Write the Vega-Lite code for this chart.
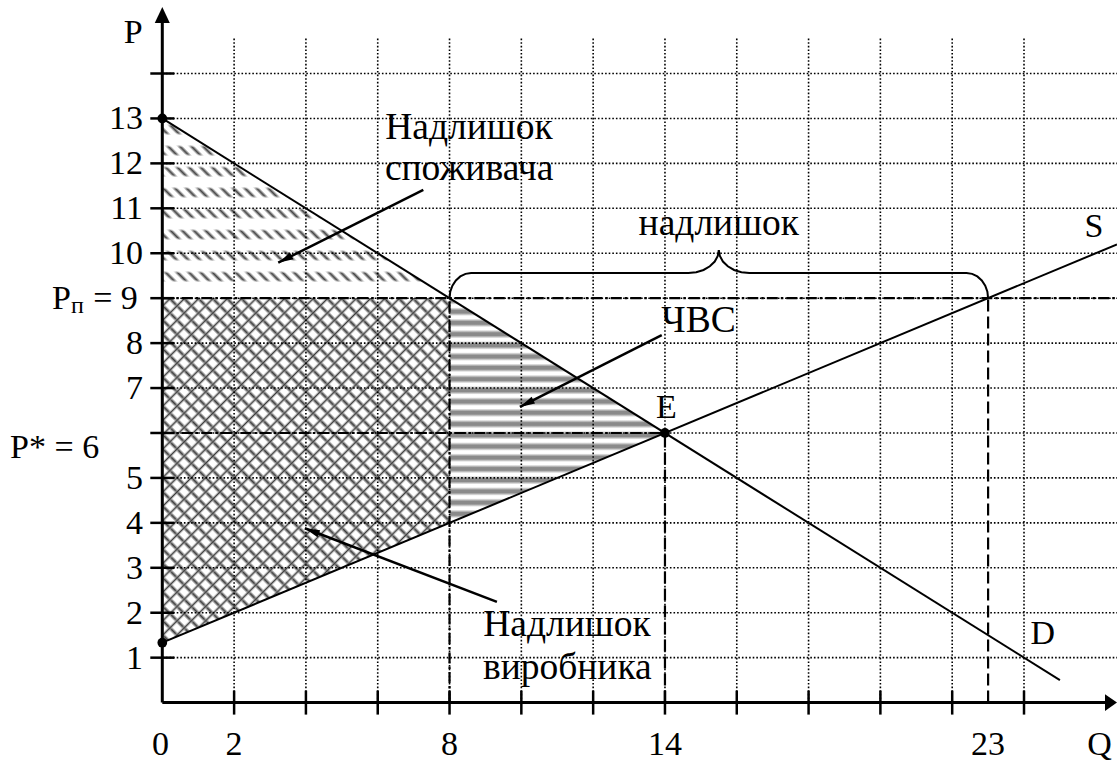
{
"$schema":"https://vega.github.io/schema/vega-lite/v6.json",
"width":954.7,"height":695.6,
"autosize":{"type":"none"},
"padding":{"left":162.3,"top":7,"right":0,"bottom":59.4},
"background":"white",
"config":{"view":{"stroke":null},"font":"'Liberation Serif', 'Times New Roman', serif"},
"layer":[
{"data":{"values":[{"Q":0,"P":13,"P2":9},{"Q":8,"P":9,"P2":9}]},
 "mark":{"type":"area","stroke":null,"opacity":1,"fillOpacity":1,"fill":{"gradient":"linear","x1":-0.0843,"y1":0.8652,"x2":1.0843,"y2":0.1348,"stops":[
{"offset":0.005,"color":"#fff"},{"offset":0.0125,"color":"#444"},{"offset":0.02,"color":"#fff"},
{"offset":0.03,"color":"#fff"},{"offset":0.0375,"color":"#444"},{"offset":0.045,"color":"#fff"},
{"offset":0.055,"color":"#fff"},{"offset":0.0625,"color":"#444"},{"offset":0.07,"color":"#fff"},
{"offset":0.08,"color":"#fff"},{"offset":0.0875,"color":"#444"},{"offset":0.095,"color":"#fff"},
{"offset":0.105,"color":"#fff"},{"offset":0.1125,"color":"#444"},{"offset":0.12,"color":"#fff"},
{"offset":0.13,"color":"#fff"},{"offset":0.1375,"color":"#444"},{"offset":0.145,"color":"#fff"},
{"offset":0.155,"color":"#fff"},{"offset":0.1625,"color":"#444"},{"offset":0.17,"color":"#fff"},
{"offset":0.18,"color":"#fff"},{"offset":0.1875,"color":"#444"},{"offset":0.195,"color":"#fff"},
{"offset":0.205,"color":"#fff"},{"offset":0.2125,"color":"#444"},{"offset":0.22,"color":"#fff"},
{"offset":0.23,"color":"#fff"},{"offset":0.2375,"color":"#444"},{"offset":0.245,"color":"#fff"},
{"offset":0.255,"color":"#fff"},{"offset":0.2625,"color":"#444"},{"offset":0.27,"color":"#fff"},
{"offset":0.28,"color":"#fff"},{"offset":0.2875,"color":"#444"},{"offset":0.295,"color":"#fff"},
{"offset":0.305,"color":"#fff"},{"offset":0.3125,"color":"#444"},{"offset":0.32,"color":"#fff"},
{"offset":0.33,"color":"#fff"},{"offset":0.3375,"color":"#444"},{"offset":0.345,"color":"#fff"},
{"offset":0.355,"color":"#fff"},{"offset":0.3625,"color":"#444"},{"offset":0.37,"color":"#fff"},
{"offset":0.38,"color":"#fff"},{"offset":0.3875,"color":"#444"},{"offset":0.395,"color":"#fff"},
{"offset":0.405,"color":"#fff"},{"offset":0.4125,"color":"#444"},{"offset":0.42,"color":"#fff"},
{"offset":0.43,"color":"#fff"},{"offset":0.4375,"color":"#444"},{"offset":0.445,"color":"#fff"},
{"offset":0.455,"color":"#fff"},{"offset":0.4625,"color":"#444"},{"offset":0.47,"color":"#fff"},
{"offset":0.48,"color":"#fff"},{"offset":0.4875,"color":"#444"},{"offset":0.495,"color":"#fff"},
{"offset":0.505,"color":"#fff"},{"offset":0.5125,"color":"#444"},{"offset":0.52,"color":"#fff"},
{"offset":0.53,"color":"#fff"},{"offset":0.5375,"color":"#444"},{"offset":0.545,"color":"#fff"},
{"offset":0.555,"color":"#fff"},{"offset":0.5625,"color":"#444"},{"offset":0.57,"color":"#fff"},
{"offset":0.58,"color":"#fff"},{"offset":0.5875,"color":"#444"},{"offset":0.595,"color":"#fff"},
{"offset":0.605,"color":"#fff"},{"offset":0.6125,"color":"#444"},{"offset":0.62,"color":"#fff"}
 ]}},
 "encoding":{"x":{"field":"Q","type":"quantitative","scale":{"domain":[0,26.59],"nice":false,"zero":false},"axis":null},
  "y":{"field":"P","type":"quantitative","scale":{"domain":[0,15.48],"nice":false,"zero":false},"axis":null},"y2":{"field":"P2"}}},
{"data":{"values":[{"Q":0,"P":13,"P2":9},{"Q":8,"P":9,"P2":9}]},
 "mark":{"type":"area","stroke":null,"opacity":1,"fillOpacity":1,"fill":{"gradient":"linear","x1":0,"y1":0,"x2":0,"y2":1,"stops":[
{"offset":0.03,"color":"#fff"},{"offset":0.044,"color":"rgba(255,255,255,0)"},{"offset":0.08,"color":"rgba(255,255,255,0)"},{"offset":0.094,"color":"#fff"},
{"offset":0.147,"color":"#fff"},{"offset":0.161,"color":"rgba(255,255,255,0)"},{"offset":0.197,"color":"rgba(255,255,255,0)"},{"offset":0.211,"color":"#fff"},
{"offset":0.264,"color":"#fff"},{"offset":0.278,"color":"rgba(255,255,255,0)"},{"offset":0.314,"color":"rgba(255,255,255,0)"},{"offset":0.328,"color":"#fff"},
{"offset":0.38,"color":"#fff"},{"offset":0.394,"color":"rgba(255,255,255,0)"},{"offset":0.43,"color":"rgba(255,255,255,0)"},{"offset":0.444,"color":"#fff"},
{"offset":0.497,"color":"#fff"},{"offset":0.511,"color":"rgba(255,255,255,0)"},{"offset":0.547,"color":"rgba(255,255,255,0)"},{"offset":0.561,"color":"#fff"},
{"offset":0.614,"color":"#fff"},{"offset":0.628,"color":"rgba(255,255,255,0)"},{"offset":0.664,"color":"rgba(255,255,255,0)"},{"offset":0.678,"color":"#fff"},
{"offset":0.731,"color":"#fff"},{"offset":0.745,"color":"rgba(255,255,255,0)"},{"offset":0.781,"color":"rgba(255,255,255,0)"},{"offset":0.795,"color":"#fff"},
{"offset":0.848,"color":"#fff"},{"offset":0.862,"color":"rgba(255,255,255,0)"},{"offset":0.898,"color":"rgba(255,255,255,0)"},{"offset":0.912,"color":"#fff"}
 ]}},
 "encoding":{"x":{"field":"Q","type":"quantitative","scale":{"domain":[0,26.59],"nice":false,"zero":false},"axis":null},
  "y":{"field":"P","type":"quantitative","scale":{"domain":[0,15.48],"nice":false,"zero":false},"axis":null},"y2":{"field":"P2"}}},
{"data":{"values":[{"Q":0,"P":9,"P2":1.333},{"Q":8,"P":9,"P2":4}]},
 "mark":{"type":"area","stroke":null,"opacity":1,"fillOpacity":1,"fill":{"gradient":"linear","x1":-0.0109,"y1":1.1128,"x2":1.0109,"y2":-0.1128,"stops":[
{"offset":0.065,"color":"#fff"},{"offset":0.07,"color":"#3c3c3c"},{"offset":0.075,"color":"#fff"},
{"offset":0.085,"color":"#fff"},{"offset":0.09,"color":"#3c3c3c"},{"offset":0.095,"color":"#fff"},
{"offset":0.105,"color":"#fff"},{"offset":0.11,"color":"#3c3c3c"},{"offset":0.115,"color":"#fff"},
{"offset":0.125,"color":"#fff"},{"offset":0.13,"color":"#3c3c3c"},{"offset":0.135,"color":"#fff"},
{"offset":0.145,"color":"#fff"},{"offset":0.15,"color":"#3c3c3c"},{"offset":0.155,"color":"#fff"},
{"offset":0.165,"color":"#fff"},{"offset":0.17,"color":"#3c3c3c"},{"offset":0.175,"color":"#fff"},
{"offset":0.185,"color":"#fff"},{"offset":0.19,"color":"#3c3c3c"},{"offset":0.195,"color":"#fff"},
{"offset":0.205,"color":"#fff"},{"offset":0.21,"color":"#3c3c3c"},{"offset":0.215,"color":"#fff"},
{"offset":0.225,"color":"#fff"},{"offset":0.23,"color":"#3c3c3c"},{"offset":0.235,"color":"#fff"},
{"offset":0.245,"color":"#fff"},{"offset":0.25,"color":"#3c3c3c"},{"offset":0.255,"color":"#fff"},
{"offset":0.265,"color":"#fff"},{"offset":0.27,"color":"#3c3c3c"},{"offset":0.275,"color":"#fff"},
{"offset":0.285,"color":"#fff"},{"offset":0.29,"color":"#3c3c3c"},{"offset":0.295,"color":"#fff"},
{"offset":0.305,"color":"#fff"},{"offset":0.31,"color":"#3c3c3c"},{"offset":0.315,"color":"#fff"},
{"offset":0.325,"color":"#fff"},{"offset":0.33,"color":"#3c3c3c"},{"offset":0.335,"color":"#fff"},
{"offset":0.345,"color":"#fff"},{"offset":0.35,"color":"#3c3c3c"},{"offset":0.355,"color":"#fff"},
{"offset":0.365,"color":"#fff"},{"offset":0.37,"color":"#3c3c3c"},{"offset":0.375,"color":"#fff"},
{"offset":0.385,"color":"#fff"},{"offset":0.39,"color":"#3c3c3c"},{"offset":0.395,"color":"#fff"},
{"offset":0.405,"color":"#fff"},{"offset":0.41,"color":"#3c3c3c"},{"offset":0.415,"color":"#fff"},
{"offset":0.425,"color":"#fff"},{"offset":0.43,"color":"#3c3c3c"},{"offset":0.435,"color":"#fff"},
{"offset":0.445,"color":"#fff"},{"offset":0.45,"color":"#3c3c3c"},{"offset":0.455,"color":"#fff"},
{"offset":0.465,"color":"#fff"},{"offset":0.47,"color":"#3c3c3c"},{"offset":0.475,"color":"#fff"},
{"offset":0.485,"color":"#fff"},{"offset":0.49,"color":"#3c3c3c"},{"offset":0.495,"color":"#fff"},
{"offset":0.505,"color":"#fff"},{"offset":0.51,"color":"#3c3c3c"},{"offset":0.515,"color":"#fff"},
{"offset":0.525,"color":"#fff"},{"offset":0.53,"color":"#3c3c3c"},{"offset":0.535,"color":"#fff"},
{"offset":0.545,"color":"#fff"},{"offset":0.55,"color":"#3c3c3c"},{"offset":0.555,"color":"#fff"},
{"offset":0.565,"color":"#fff"},{"offset":0.57,"color":"#3c3c3c"},{"offset":0.575,"color":"#fff"},
{"offset":0.585,"color":"#fff"},{"offset":0.59,"color":"#3c3c3c"},{"offset":0.595,"color":"#fff"},
{"offset":0.605,"color":"#fff"},{"offset":0.61,"color":"#3c3c3c"},{"offset":0.615,"color":"#fff"},
{"offset":0.625,"color":"#fff"},{"offset":0.63,"color":"#3c3c3c"},{"offset":0.635,"color":"#fff"},
{"offset":0.645,"color":"#fff"},{"offset":0.65,"color":"#3c3c3c"},{"offset":0.655,"color":"#fff"},
{"offset":0.665,"color":"#fff"},{"offset":0.67,"color":"#3c3c3c"},{"offset":0.675,"color":"#fff"},
{"offset":0.685,"color":"#fff"},{"offset":0.69,"color":"#3c3c3c"},{"offset":0.695,"color":"#fff"},
{"offset":0.705,"color":"#fff"},{"offset":0.71,"color":"#3c3c3c"},{"offset":0.715,"color":"#fff"},
{"offset":0.725,"color":"#fff"},{"offset":0.73,"color":"#3c3c3c"},{"offset":0.735,"color":"#fff"},
{"offset":0.745,"color":"#fff"},{"offset":0.75,"color":"#3c3c3c"},{"offset":0.755,"color":"#fff"},
{"offset":0.765,"color":"#fff"},{"offset":0.77,"color":"#3c3c3c"},{"offset":0.775,"color":"#fff"},
{"offset":0.785,"color":"#fff"},{"offset":0.79,"color":"#3c3c3c"},{"offset":0.795,"color":"#fff"},
{"offset":0.805,"color":"#fff"},{"offset":0.81,"color":"#3c3c3c"},{"offset":0.815,"color":"#fff"},
{"offset":0.825,"color":"#fff"},{"offset":0.83,"color":"#3c3c3c"},{"offset":0.835,"color":"#fff"},
{"offset":0.845,"color":"#fff"},{"offset":0.85,"color":"#3c3c3c"},{"offset":0.855,"color":"#fff"},
{"offset":0.865,"color":"#fff"},{"offset":0.87,"color":"#3c3c3c"},{"offset":0.875,"color":"#fff"},
{"offset":0.885,"color":"#fff"},{"offset":0.89,"color":"#3c3c3c"},{"offset":0.895,"color":"#fff"},
{"offset":0.905,"color":"#fff"},{"offset":0.91,"color":"#3c3c3c"},{"offset":0.915,"color":"#fff"},
{"offset":0.925,"color":"#fff"},{"offset":0.93,"color":"#3c3c3c"},{"offset":0.935,"color":"#fff"}
 ]}},
 "encoding":{"x":{"field":"Q","type":"quantitative","scale":{"domain":[0,26.59],"nice":false,"zero":false},"axis":null},
  "y":{"field":"P","type":"quantitative","scale":{"domain":[0,15.48],"nice":false,"zero":false},"axis":null},"y2":{"field":"P2"}}},
{"data":{"values":[{"Q":0,"P":9,"P2":1.333},{"Q":8,"P":9,"P2":4}]},
 "mark":{"type":"area","stroke":null,"opacity":1,"fillOpacity":1,"fill":{"gradient":"linear","x1":-0.0109,"y1":-0.1128,"x2":1.0109,"y2":1.1128,"stops":[
{"offset":0.065,"color":"rgba(255,255,255,0)"},{"offset":0.07,"color":"#3c3c3c"},{"offset":0.075,"color":"rgba(255,255,255,0)"},
{"offset":0.085,"color":"rgba(255,255,255,0)"},{"offset":0.09,"color":"#3c3c3c"},{"offset":0.095,"color":"rgba(255,255,255,0)"},
{"offset":0.105,"color":"rgba(255,255,255,0)"},{"offset":0.11,"color":"#3c3c3c"},{"offset":0.115,"color":"rgba(255,255,255,0)"},
{"offset":0.125,"color":"rgba(255,255,255,0)"},{"offset":0.13,"color":"#3c3c3c"},{"offset":0.135,"color":"rgba(255,255,255,0)"},
{"offset":0.145,"color":"rgba(255,255,255,0)"},{"offset":0.15,"color":"#3c3c3c"},{"offset":0.155,"color":"rgba(255,255,255,0)"},
{"offset":0.165,"color":"rgba(255,255,255,0)"},{"offset":0.17,"color":"#3c3c3c"},{"offset":0.175,"color":"rgba(255,255,255,0)"},
{"offset":0.185,"color":"rgba(255,255,255,0)"},{"offset":0.19,"color":"#3c3c3c"},{"offset":0.195,"color":"rgba(255,255,255,0)"},
{"offset":0.205,"color":"rgba(255,255,255,0)"},{"offset":0.21,"color":"#3c3c3c"},{"offset":0.215,"color":"rgba(255,255,255,0)"},
{"offset":0.225,"color":"rgba(255,255,255,0)"},{"offset":0.23,"color":"#3c3c3c"},{"offset":0.235,"color":"rgba(255,255,255,0)"},
{"offset":0.245,"color":"rgba(255,255,255,0)"},{"offset":0.25,"color":"#3c3c3c"},{"offset":0.255,"color":"rgba(255,255,255,0)"},
{"offset":0.265,"color":"rgba(255,255,255,0)"},{"offset":0.27,"color":"#3c3c3c"},{"offset":0.275,"color":"rgba(255,255,255,0)"},
{"offset":0.285,"color":"rgba(255,255,255,0)"},{"offset":0.29,"color":"#3c3c3c"},{"offset":0.295,"color":"rgba(255,255,255,0)"},
{"offset":0.305,"color":"rgba(255,255,255,0)"},{"offset":0.31,"color":"#3c3c3c"},{"offset":0.315,"color":"rgba(255,255,255,0)"},
{"offset":0.325,"color":"rgba(255,255,255,0)"},{"offset":0.33,"color":"#3c3c3c"},{"offset":0.335,"color":"rgba(255,255,255,0)"},
{"offset":0.345,"color":"rgba(255,255,255,0)"},{"offset":0.35,"color":"#3c3c3c"},{"offset":0.355,"color":"rgba(255,255,255,0)"},
{"offset":0.365,"color":"rgba(255,255,255,0)"},{"offset":0.37,"color":"#3c3c3c"},{"offset":0.375,"color":"rgba(255,255,255,0)"},
{"offset":0.385,"color":"rgba(255,255,255,0)"},{"offset":0.39,"color":"#3c3c3c"},{"offset":0.395,"color":"rgba(255,255,255,0)"},
{"offset":0.405,"color":"rgba(255,255,255,0)"},{"offset":0.41,"color":"#3c3c3c"},{"offset":0.415,"color":"rgba(255,255,255,0)"},
{"offset":0.425,"color":"rgba(255,255,255,0)"},{"offset":0.43,"color":"#3c3c3c"},{"offset":0.435,"color":"rgba(255,255,255,0)"},
{"offset":0.445,"color":"rgba(255,255,255,0)"},{"offset":0.45,"color":"#3c3c3c"},{"offset":0.455,"color":"rgba(255,255,255,0)"},
{"offset":0.465,"color":"rgba(255,255,255,0)"},{"offset":0.47,"color":"#3c3c3c"},{"offset":0.475,"color":"rgba(255,255,255,0)"},
{"offset":0.485,"color":"rgba(255,255,255,0)"},{"offset":0.49,"color":"#3c3c3c"},{"offset":0.495,"color":"rgba(255,255,255,0)"},
{"offset":0.505,"color":"rgba(255,255,255,0)"},{"offset":0.51,"color":"#3c3c3c"},{"offset":0.515,"color":"rgba(255,255,255,0)"},
{"offset":0.525,"color":"rgba(255,255,255,0)"},{"offset":0.53,"color":"#3c3c3c"},{"offset":0.535,"color":"rgba(255,255,255,0)"},
{"offset":0.545,"color":"rgba(255,255,255,0)"},{"offset":0.55,"color":"#3c3c3c"},{"offset":0.555,"color":"rgba(255,255,255,0)"},
{"offset":0.565,"color":"rgba(255,255,255,0)"},{"offset":0.57,"color":"#3c3c3c"},{"offset":0.575,"color":"rgba(255,255,255,0)"},
{"offset":0.585,"color":"rgba(255,255,255,0)"},{"offset":0.59,"color":"#3c3c3c"},{"offset":0.595,"color":"rgba(255,255,255,0)"},
{"offset":0.605,"color":"rgba(255,255,255,0)"},{"offset":0.61,"color":"#3c3c3c"},{"offset":0.615,"color":"rgba(255,255,255,0)"},
{"offset":0.625,"color":"rgba(255,255,255,0)"},{"offset":0.63,"color":"#3c3c3c"},{"offset":0.635,"color":"rgba(255,255,255,0)"},
{"offset":0.645,"color":"rgba(255,255,255,0)"},{"offset":0.65,"color":"#3c3c3c"},{"offset":0.655,"color":"rgba(255,255,255,0)"},
{"offset":0.665,"color":"rgba(255,255,255,0)"},{"offset":0.67,"color":"#3c3c3c"},{"offset":0.675,"color":"rgba(255,255,255,0)"},
{"offset":0.685,"color":"rgba(255,255,255,0)"},{"offset":0.69,"color":"#3c3c3c"},{"offset":0.695,"color":"rgba(255,255,255,0)"},
{"offset":0.705,"color":"rgba(255,255,255,0)"},{"offset":0.71,"color":"#3c3c3c"},{"offset":0.715,"color":"rgba(255,255,255,0)"},
{"offset":0.725,"color":"rgba(255,255,255,0)"},{"offset":0.73,"color":"#3c3c3c"},{"offset":0.735,"color":"rgba(255,255,255,0)"},
{"offset":0.745,"color":"rgba(255,255,255,0)"},{"offset":0.75,"color":"#3c3c3c"},{"offset":0.755,"color":"rgba(255,255,255,0)"},
{"offset":0.765,"color":"rgba(255,255,255,0)"},{"offset":0.77,"color":"#3c3c3c"},{"offset":0.775,"color":"rgba(255,255,255,0)"},
{"offset":0.785,"color":"rgba(255,255,255,0)"},{"offset":0.79,"color":"#3c3c3c"},{"offset":0.795,"color":"rgba(255,255,255,0)"},
{"offset":0.805,"color":"rgba(255,255,255,0)"},{"offset":0.81,"color":"#3c3c3c"},{"offset":0.815,"color":"rgba(255,255,255,0)"},
{"offset":0.825,"color":"rgba(255,255,255,0)"},{"offset":0.83,"color":"#3c3c3c"},{"offset":0.835,"color":"rgba(255,255,255,0)"},
{"offset":0.845,"color":"rgba(255,255,255,0)"},{"offset":0.85,"color":"#3c3c3c"},{"offset":0.855,"color":"rgba(255,255,255,0)"},
{"offset":0.865,"color":"rgba(255,255,255,0)"},{"offset":0.87,"color":"#3c3c3c"},{"offset":0.875,"color":"rgba(255,255,255,0)"},
{"offset":0.885,"color":"rgba(255,255,255,0)"},{"offset":0.89,"color":"#3c3c3c"},{"offset":0.895,"color":"rgba(255,255,255,0)"},
{"offset":0.905,"color":"rgba(255,255,255,0)"},{"offset":0.91,"color":"#3c3c3c"},{"offset":0.915,"color":"rgba(255,255,255,0)"},
{"offset":0.925,"color":"rgba(255,255,255,0)"},{"offset":0.93,"color":"#3c3c3c"},{"offset":0.935,"color":"rgba(255,255,255,0)"}
 ]}},
 "encoding":{"x":{"field":"Q","type":"quantitative","scale":{"domain":[0,26.59],"nice":false,"zero":false},"axis":null},
  "y":{"field":"P","type":"quantitative","scale":{"domain":[0,15.48],"nice":false,"zero":false},"axis":null},"y2":{"field":"P2"}}},
{"data":{"values":[{"Q":8,"P":9,"P2":4},{"Q":14,"P":6,"P2":6}]},
 "mark":{"type":"area","stroke":null,"opacity":1,"fillOpacity":1,"fill":{"gradient":"linear","x1":0,"y1":0,"x2":0,"y2":1,"stops":[
{"offset":0.004,"color":"#8a8a8a"},{"offset":0.016,"color":"#8a8a8a"},{"offset":0.029,"color":"#fff"},{"offset":0.041,"color":"#fff"},
{"offset":0.054,"color":"#8a8a8a"},{"offset":0.066,"color":"#8a8a8a"},{"offset":0.079,"color":"#fff"},{"offset":0.091,"color":"#fff"},
{"offset":0.104,"color":"#8a8a8a"},{"offset":0.116,"color":"#8a8a8a"},{"offset":0.129,"color":"#fff"},{"offset":0.141,"color":"#fff"},
{"offset":0.154,"color":"#8a8a8a"},{"offset":0.166,"color":"#8a8a8a"},{"offset":0.179,"color":"#fff"},{"offset":0.191,"color":"#fff"},
{"offset":0.204,"color":"#8a8a8a"},{"offset":0.216,"color":"#8a8a8a"},{"offset":0.229,"color":"#fff"},{"offset":0.241,"color":"#fff"},
{"offset":0.254,"color":"#8a8a8a"},{"offset":0.266,"color":"#8a8a8a"},{"offset":0.279,"color":"#fff"},{"offset":0.291,"color":"#fff"},
{"offset":0.304,"color":"#8a8a8a"},{"offset":0.316,"color":"#8a8a8a"},{"offset":0.329,"color":"#fff"},{"offset":0.341,"color":"#fff"},
{"offset":0.354,"color":"#8a8a8a"},{"offset":0.366,"color":"#8a8a8a"},{"offset":0.379,"color":"#fff"},{"offset":0.391,"color":"#fff"},
{"offset":0.404,"color":"#8a8a8a"},{"offset":0.416,"color":"#8a8a8a"},{"offset":0.429,"color":"#fff"},{"offset":0.441,"color":"#fff"},
{"offset":0.454,"color":"#8a8a8a"},{"offset":0.466,"color":"#8a8a8a"},{"offset":0.479,"color":"#fff"},{"offset":0.491,"color":"#fff"},
{"offset":0.504,"color":"#8a8a8a"},{"offset":0.516,"color":"#8a8a8a"},{"offset":0.529,"color":"#fff"},{"offset":0.541,"color":"#fff"},
{"offset":0.554,"color":"#8a8a8a"},{"offset":0.566,"color":"#8a8a8a"},{"offset":0.579,"color":"#fff"},{"offset":0.591,"color":"#fff"},
{"offset":0.604,"color":"#8a8a8a"},{"offset":0.616,"color":"#8a8a8a"},{"offset":0.629,"color":"#fff"},{"offset":0.641,"color":"#fff"},
{"offset":0.654,"color":"#8a8a8a"},{"offset":0.666,"color":"#8a8a8a"},{"offset":0.679,"color":"#fff"},{"offset":0.691,"color":"#fff"},
{"offset":0.704,"color":"#8a8a8a"},{"offset":0.716,"color":"#8a8a8a"},{"offset":0.729,"color":"#fff"},{"offset":0.741,"color":"#fff"},
{"offset":0.754,"color":"#8a8a8a"},{"offset":0.766,"color":"#8a8a8a"},{"offset":0.779,"color":"#fff"},{"offset":0.791,"color":"#fff"},
{"offset":0.804,"color":"#8a8a8a"},{"offset":0.816,"color":"#8a8a8a"},{"offset":0.829,"color":"#fff"},{"offset":0.841,"color":"#fff"},
{"offset":0.854,"color":"#8a8a8a"},{"offset":0.866,"color":"#8a8a8a"},{"offset":0.879,"color":"#fff"},{"offset":0.891,"color":"#fff"},
{"offset":0.904,"color":"#8a8a8a"},{"offset":0.916,"color":"#8a8a8a"},{"offset":0.929,"color":"#fff"},{"offset":0.941,"color":"#fff"},
{"offset":0.954,"color":"#8a8a8a"},{"offset":0.966,"color":"#8a8a8a"},{"offset":0.979,"color":"#fff"},{"offset":0.991,"color":"#fff"}
 ]}},
 "encoding":{"x":{"field":"Q","type":"quantitative","scale":{"domain":[0,26.59],"nice":false,"zero":false},"axis":null},
  "y":{"field":"P","type":"quantitative","scale":{"domain":[0,15.48],"nice":false,"zero":false},"axis":null},"y2":{"field":"P2"}}},
{"data":{"values":[{"Q":2},{"Q":4},{"Q":6},{"Q":8},{"Q":10},{"Q":12},{"Q":14},{"Q":16},{"Q":18},{"Q":20},{"Q":22},{"Q":24}]},
 "mark":{"type":"rule","color":"black","strokeWidth":1.6,"strokeDash":[1.6,2]},
 "encoding":{"x":{"field":"Q","type":"quantitative","scale":{"domain":[0,26.59],"nice":false,"zero":false},"axis":null},
  "y":{"datum":0,"type":"quantitative","scale":{"domain":[0,15.48],"nice":false,"zero":false},"axis":null},"y2":{"datum":14.79}}},
{"data":{"values":[{"P":1},{"P":2},{"P":3},{"P":4},{"P":5},{"P":6},{"P":7},{"P":8},{"P":9},{"P":10},{"P":11},{"P":12},{"P":13},{"P":14}]},
 "mark":{"type":"rule","color":"black","strokeWidth":1.6,"strokeDash":[1.6,2]},
 "encoding":{"y":{"field":"P","type":"quantitative","scale":{"domain":[0,15.48],"nice":false,"zero":false},"axis":null},
  "x":{"datum":0,"type":"quantitative","scale":{"domain":[0,26.59],"nice":false,"zero":false},"axis":null},"x2":{"datum":26.59}}},
{"data":{"values":[{"line":"p9","Q":0,"P":9},{"line":"p9","Q":26.59,"P":9},{"line":"p6","Q":0,"P":6},{"line":"p6","Q":14,"P":6},{"line":"q8","Q":8,"P":0},{"line":"q8","Q":8,"P":9}]},
 "mark":{"type":"line","color":"black","strokeWidth":2.2,"strokeDash":[11,3,2.5,3]},
 "encoding":{"x":{"field":"Q","type":"quantitative","scale":{"domain":[0,26.59],"nice":false,"zero":false},"axis":null},
  "y":{"field":"P","type":"quantitative","scale":{"domain":[0,15.48],"nice":false,"zero":false},"axis":null},"detail":{"field":"line"}}},
{"data":{"values":[{"line":"q14","Q":14,"P":0},{"line":"q14","Q":14,"P":6},{"line":"q23","Q":23,"P":0},{"line":"q23","Q":23,"P":9}]},
 "mark":{"type":"line","color":"black","strokeWidth":2.2,"strokeDash":[12,5]},
 "encoding":{"x":{"field":"Q","type":"quantitative","scale":{"domain":[0,26.59],"nice":false,"zero":false},"axis":null},
  "y":{"field":"P","type":"quantitative","scale":{"domain":[0,15.48],"nice":false,"zero":false},"axis":null},"detail":{"field":"line"}}},
{"data":{"values":[{"curve":"D","Q":0,"P":13},{"curve":"D","Q":25,"P":0.5},{"curve":"S","Q":0,"P":1.333},{"curve":"S","Q":26.59,"P":10.197}]},
 "mark":{"type":"line","color":"black","strokeWidth":2},
 "encoding":{"x":{"field":"Q","type":"quantitative","scale":{"domain":[0,26.59],"nice":false,"zero":false},"axis":null},
  "y":{"field":"P","type":"quantitative","scale":{"domain":[0,15.48],"nice":false,"zero":false},"axis":null},"detail":{"field":"curve"}}},
{"data":{"values":[
{"half":"L","Q":8.0,"P":9.0},{"half":"L","Q":8.02,"P":9.145},{"half":"L","Q":8.08,"P":9.28},{"half":"L","Q":8.176,"P":9.396},{"half":"L","Q":8.3,"P":9.485},{"half":"L","Q":8.445,"P":9.541},{"half":"L","Q":8.6,"P":9.56},
{"half":"L","Q":14.65,"P":9.56},{"half":"L","Q":14.87,"P":9.577},{"half":"L","Q":15.075,"P":9.628},{"half":"L","Q":15.25,"P":9.709},{"half":"L","Q":15.386,"P":9.815},{"half":"L","Q":15.471,"P":9.938},{"half":"L","Q":15.5,"P":10.07},
{"half":"R","Q":23.0,"P":9.0},{"half":"R","Q":22.98,"P":9.145},{"half":"R","Q":22.92,"P":9.28},{"half":"R","Q":22.824,"P":9.396},{"half":"R","Q":22.7,"P":9.485},{"half":"R","Q":22.555,"P":9.541},{"half":"R","Q":22.4,"P":9.56},
{"half":"R","Q":16.35,"P":9.56},{"half":"R","Q":16.13,"P":9.577},{"half":"R","Q":15.925,"P":9.628},{"half":"R","Q":15.75,"P":9.709},{"half":"R","Q":15.614,"P":9.815},{"half":"R","Q":15.529,"P":9.938},{"half":"R","Q":15.5,"P":10.07}]},
 "mark":{"type":"line","color":"black","strokeWidth":2},
 "encoding":{"x":{"field":"Q","type":"quantitative","scale":{"domain":[0,26.59],"nice":false,"zero":false},"axis":null},
  "y":{"field":"P","type":"quantitative","scale":{"domain":[0,15.48],"nice":false,"zero":false},"axis":null},"detail":{"field":"half"}}},
{"data":{"values":[{"axis":"P"}]},
 "mark":{"type":"rule","color":"black","strokeWidth":3},
 "encoding":{"x":{"datum":0,"type":"quantitative","scale":{"domain":[0,26.59],"nice":false,"zero":false},"axis":null},
  "y":{"datum":0,"type":"quantitative","scale":{"domain":[0,15.48],"nice":false,"zero":false},"axis":null},"y2":{"datum":15.2}}},
{"data":{"values":[{"axis":"Q"}]},
 "mark":{"type":"rule","color":"black","strokeWidth":3},
 "encoding":{"x":{"datum":0,"type":"quantitative","scale":{"domain":[0,26.59],"nice":false,"zero":false},"axis":null},"x2":{"datum":26.35},
  "y":{"datum":0,"type":"quantitative","scale":{"domain":[0,15.48],"nice":false,"zero":false},"axis":null}}},
{"data":{"values":[{"P":1},{"P":2},{"P":3},{"P":4},{"P":5},{"P":6},{"P":7},{"P":8},{"P":9},{"P":10},{"P":11},{"P":12},{"P":13},{"P":14}]},
 "mark":{"type":"rule","color":"black","strokeWidth":2.5},
 "encoding":{"y":{"field":"P","type":"quantitative","scale":{"domain":[0,15.48],"nice":false,"zero":false},"axis":null},
  "x":{"datum":-0.334,"type":"quantitative","scale":{"domain":[0,26.59],"nice":false,"zero":false},"axis":null},"x2":{"datum":0.334}}},
{"data":{"values":[{"Q":2},{"Q":4},{"Q":6},{"Q":8},{"Q":10},{"Q":12},{"Q":14},{"Q":16},{"Q":18},{"Q":20},{"Q":22},{"Q":24}]},
 "mark":{"type":"rule","color":"black","strokeWidth":2.5},
 "encoding":{"x":{"field":"Q","type":"quantitative","scale":{"domain":[0,26.59],"nice":false,"zero":false},"axis":null},
  "y":{"datum":-0.267,"type":"quantitative","scale":{"domain":[0,15.48],"nice":false,"zero":false},"axis":null},"y2":{"datum":0.267}}},
{"data":{"values":[{"Q":0,"P":15.48}]},
 "mark":{"type":"point","shape":"M0,0L-0.94,2L0.94,2Z","size":256,"filled":true,"fill":"black","stroke":null,"opacity":1},
 "encoding":{"x":{"field":"Q","type":"quantitative","scale":{"domain":[0,26.59],"nice":false,"zero":false},"axis":null},
  "y":{"field":"P","type":"quantitative","scale":{"domain":[0,15.48],"nice":false,"zero":false},"axis":null}}},
{"data":{"values":[{"Q":26.59,"P":0}]},
 "mark":{"type":"point","shape":"M0,0L-2,-1.4L-2,1.4Z","size":144,"filled":true,"fill":"black","stroke":null,"opacity":1},
 "encoding":{"x":{"field":"Q","type":"quantitative","scale":{"domain":[0,26.59],"nice":false,"zero":false},"axis":null},
  "y":{"field":"P","type":"quantitative","scale":{"domain":[0,15.48],"nice":false,"zero":false},"axis":null}}},
{"data":{"values":[{"Q":0,"P":13},{"Q":0,"P":1.333},{"Q":14,"P":6}]},
 "mark":{"type":"point","shape":"circle","size":95,"filled":true,"fill":"black","stroke":null,"opacity":1},
 "encoding":{"x":{"field":"Q","type":"quantitative","scale":{"domain":[0,26.59],"nice":false,"zero":false},"axis":null},
  "y":{"field":"P","type":"quantitative","scale":{"domain":[0,15.48],"nice":false,"zero":false},"axis":null}}},
{"data":{"values":[{"arrow":"cs","Q":7.27,"P":11.41},{"arrow":"cs","Q":3.23,"P":9.79},{"arrow":"dwl","Q":13.91,"P":8.18},{"arrow":"dwl","Q":9.96,"P":6.58},{"arrow":"ps","Q":9.32,"P":2.24},{"arrow":"ps","Q":3.97,"P":3.88}]},
 "mark":{"type":"line","color":"black","strokeWidth":2.5},
 "encoding":{"x":{"field":"Q","type":"quantitative","scale":{"domain":[0,26.59],"nice":false,"zero":false},"axis":null},
  "y":{"field":"P","type":"quantitative","scale":{"domain":[0,15.48],"nice":false,"zero":false},"axis":null},"detail":{"field":"arrow"}}},
{"data":{"values":[{"arrow":"cs","Q":3.23,"P":9.79}]},
 "mark":{"type":"point","shape":"M0,0L-0.5,2L0.5,2Z","size":225,"angle":243.4,"filled":true,"fill":"black","stroke":null,"opacity":1},
 "encoding":{"x":{"field":"Q","type":"quantitative","scale":{"domain":[0,26.59],"nice":false,"zero":false},"axis":null},
  "y":{"field":"P","type":"quantitative","scale":{"domain":[0,15.48],"nice":false,"zero":false},"axis":null}}},
{"data":{"values":[{"arrow":"dwl","Q":9.96,"P":6.58}]},
 "mark":{"type":"point","shape":"M0,0L-0.5,2L0.5,2Z","size":225,"angle":243.2,"filled":true,"fill":"black","stroke":null,"opacity":1},
 "encoding":{"x":{"field":"Q","type":"quantitative","scale":{"domain":[0,26.59],"nice":false,"zero":false},"axis":null},
  "y":{"field":"P","type":"quantitative","scale":{"domain":[0,15.48],"nice":false,"zero":false},"axis":null}}},
{"data":{"values":[{"arrow":"ps","Q":3.97,"P":3.88}]},
 "mark":{"type":"point","shape":"M0,0L-0.5,2L0.5,2Z","size":225,"angle":291,"filled":true,"fill":"black","stroke":null,"opacity":1},
 "encoding":{"x":{"field":"Q","type":"quantitative","scale":{"domain":[0,26.59],"nice":false,"zero":false},"axis":null},
  "y":{"field":"P","type":"quantitative","scale":{"domain":[0,15.48],"nice":false,"zero":false},"axis":null}}},
{"data":{"values":[{"label":"1","P":1},{"label":"2","P":2},{"label":"3","P":3},{"label":"4","P":4},{"label":"5","P":5},{"label":"7","P":7},{"label":"8","P":8},{"label":"10","P":10},{"label":"11","P":11},{"label":"12","P":12},{"label":"13","P":13}]},
 "mark":{"type":"text","font":"'Liberation Serif', 'Times New Roman', serif","fontSize":34,"fill":"black","align":"right","baseline":"middle","dy":1},
 "encoding":{"x":{"datum":-0.538,"type":"quantitative","scale":{"domain":[0,26.59],"nice":false,"zero":false},"axis":null},
  "y":{"field":"P","type":"quantitative","scale":{"domain":[0,15.48],"nice":false,"zero":false},"axis":null},"text":{"field":"label"}}},
{"data":{"values":[{"label":"0","Q":-0.05},{"label":"2","Q":2},{"label":"8","Q":8},{"label":"14","Q":14},{"label":"23","Q":23}]},
 "mark":{"type":"text","font":"'Liberation Serif', 'Times New Roman', serif","fontSize":34,"fill":"black","align":"center","baseline":"alphabetic"},
 "encoding":{"x":{"field":"Q","type":"quantitative","scale":{"domain":[0,26.59],"nice":false,"zero":false},"axis":null},
  "y":{"datum":-1.166,"type":"quantitative","scale":{"domain":[0,15.48],"nice":false,"zero":false},"axis":null},"text":{"field":"label"}}},
{"data":{"values":[{"label":"Надлишок","Q":6.21,"P":12.55},{"label":"споживача","Q":6.2,"P":11.63},{"label":"ЧВС","Q":13.9,"P":8.25},{"label":"Надлишок","Q":8.94,"P":1.48},{"label":"виробника","Q":8.93,"P":0.525}]},
 "mark":{"type":"text","font":"'Liberation Serif', 'Times New Roman', serif","fontSize":37.5,"fill":"black","align":"left","baseline":"alphabetic"},
 "encoding":{"x":{"field":"Q","type":"quantitative","scale":{"domain":[0,26.59],"nice":false,"zero":false},"axis":null},
  "y":{"field":"P","type":"quantitative","scale":{"domain":[0,15.48],"nice":false,"zero":false},"axis":null},"text":{"field":"label"}}},
{"data":{"values":[{"label":"P* = 6","Q":-4.24,"P":5.44},{"label":"P","Q":-3.07,"P":8.77}]},
 "mark":{"type":"text","font":"'Liberation Serif', 'Times New Roman', serif","fontSize":34,"fill":"black","align":"left","baseline":"alphabetic"},
 "encoding":{"x":{"field":"Q","type":"quantitative","scale":{"domain":[0,26.59],"nice":false,"zero":false},"axis":null},
  "y":{"field":"P","type":"quantitative","scale":{"domain":[0,15.48],"nice":false,"zero":false},"axis":null},"text":{"field":"label"}}},
{"data":{"values":[{"label":"надлишок","Q":15.5,"P":10.4}]},
 "mark":{"type":"text","font":"'Liberation Serif', 'Times New Roman', serif","fontSize":37.5,"fill":"black","align":"center","baseline":"alphabetic"},
 "encoding":{"x":{"field":"Q","type":"quantitative","scale":{"domain":[0,26.59],"nice":false,"zero":false},"axis":null},
  "y":{"field":"P","type":"quantitative","scale":{"domain":[0,15.48],"nice":false,"zero":false},"axis":null},"text":{"field":"label"}}},
{"data":{"values":[{"label":"E","Q":14.04,"P":6.33},{"label":"S","Q":25.95,"P":10.37},{"label":"D","Q":24.52,"P":1.3},{"label":"P","Q":-0.81,"P":14.68},{"label":"Q","Q":26.1,"P":-1.166}]},
 "mark":{"type":"text","font":"'Liberation Serif', 'Times New Roman', serif","fontSize":34,"fill":"black","align":"center","baseline":"alphabetic"},
 "encoding":{"x":{"field":"Q","type":"quantitative","scale":{"domain":[0,26.59],"nice":false,"zero":false},"axis":null},
  "y":{"field":"P","type":"quantitative","scale":{"domain":[0,15.48],"nice":false,"zero":false},"axis":null},"text":{"field":"label"}}},
{"data":{"values":[{"label":"= 9","Q":-0.68,"P":8.77}]},
 "mark":{"type":"text","font":"'Liberation Serif', 'Times New Roman', serif","fontSize":34,"fill":"black","align":"right","baseline":"alphabetic"},
 "encoding":{"x":{"field":"Q","type":"quantitative","scale":{"domain":[0,26.59],"nice":false,"zero":false},"axis":null},
  "y":{"field":"P","type":"quantitative","scale":{"domain":[0,15.48],"nice":false,"zero":false},"axis":null},"text":{"field":"label"}}},
{"data":{"values":[{"label":"п","Q":-2.54,"P":8.68}]},
 "mark":{"type":"text","font":"'Liberation Serif', 'Times New Roman', serif","fontSize":24,"fill":"black","align":"left","baseline":"alphabetic"},
 "encoding":{"x":{"field":"Q","type":"quantitative","scale":{"domain":[0,26.59],"nice":false,"zero":false},"axis":null},
  "y":{"field":"P","type":"quantitative","scale":{"domain":[0,15.48],"nice":false,"zero":false},"axis":null},"text":{"field":"label"}}}
]
}
